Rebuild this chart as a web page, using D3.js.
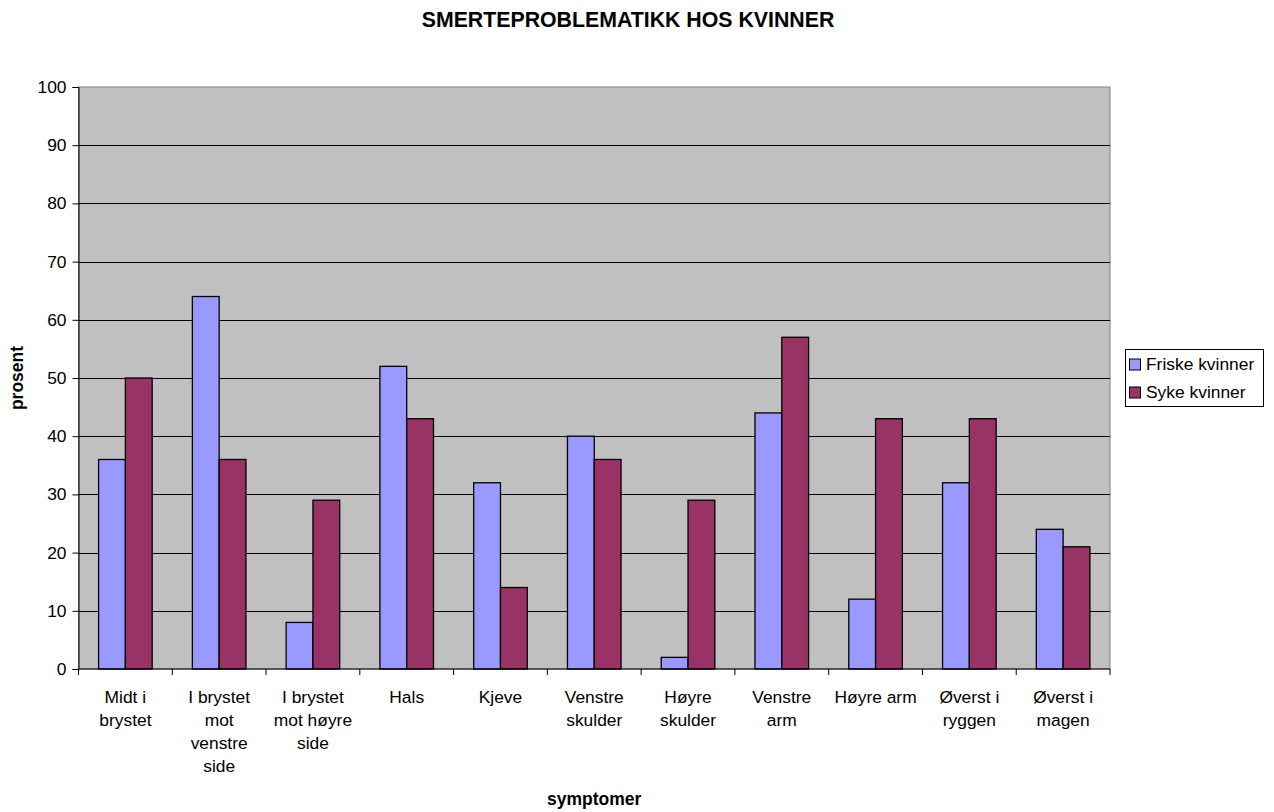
<!DOCTYPE html>
<html>
<head>
<meta charset="utf-8">
<script src="https://cdn.jsdelivr.net/npm/d3@7/dist/d3.min.js"></script>
<style>
  html, body { margin: 0; padding: 0; background: #fff; }
  svg { display: block; font-family: "Liberation Sans", Arial, sans-serif; }
</style>
</head>
<body>
<svg id="chart" width="1274" height="812"></svg>
<script>
// Symptom categories (each label split into display lines)
const categories = [
  ["Midt i", "brystet"],
  ["I brystet", "mot", "venstre", "side"],
  ["I brystet", "mot høyre", "side"],
  ["Hals"],
  ["Kjeve"],
  ["Venstre", "skulder"],
  ["Høyre", "skulder"],
  ["Venstre", "arm"],
  ["Høyre arm"],
  ["Øverst i", "ryggen"],
  ["Øverst i", "magen"]
];
const seriesNames = ["Friske kvinner", "Syke kvinner"];
const friske = [36, 64, 8, 52, 32, 40, 2, 44, 12, 32, 24];
const syke   = [50, 36, 29, 43, 14, 36, 29, 57, 43, 43, 21];
const yTicks = [0, 10, 20, 30, 40, 50, 60, 70, 80, 90, 100];
const colors = ["#9999FF", "#993366"];

const FONT = "Liberation Sans, Arial, sans-serif";
const LABEL_SIZE = 17.4;

const svg = d3.select("#chart");
const plot = { left: 78.5, right: 1110, top: 87, bottom: 669 };

const x = d3.scaleBand()
  .domain(d3.range(categories.length))
  .range([plot.left, plot.right])
  .paddingInner(0).paddingOuter(0);
const inner = d3.scaleBand()
  .domain([0, 1])
  .range([0, x.bandwidth()])
  .paddingInner(0)
  .paddingOuter(0.75);
const y = d3.scaleLinear().domain([0, 100]).range([plot.bottom, plot.top]);

// Plot background
svg.append("rect")
  .attr("x", plot.left).attr("y", plot.top)
  .attr("width", plot.right - plot.left).attr("height", plot.bottom - plot.top)
  .attr("fill", "#C0C0C0").attr("stroke", "#808080").attr("stroke-width", 1);

// Horizontal gridlines
svg.append("g").selectAll("line")
  .data(yTicks.filter(d => d > 0 && d < 100))
  .join("line")
  .attr("x1", plot.left).attr("x2", plot.right)
  .attr("y1", d => Math.round(y(d)) + 0.5).attr("y2", d => Math.round(y(d)) + 0.5)
  .attr("stroke", "#000").attr("stroke-width", 1);

// Bars
const data = categories.map((c, i) => [friske[i], syke[i]]);
const groups = svg.append("g").selectAll("g")
  .data(data)
  .join("g")
  .attr("transform", (d, i) => `translate(${x(i)},0)`);
groups.selectAll("rect")
  .data(d => d.map((v, s) => ({ v, s })))
  .join("rect")
  .attr("x", d => inner(d.s))
  .attr("width", inner.bandwidth())
  .attr("y", d => y(d.v))
  .attr("height", d => y(0) - y(d.v))
  .attr("fill", d => colors[d.s])
  .attr("stroke", "#000").attr("stroke-width", 1.3);

// Y axis
const yAxis = d3.axisLeft(y).tickValues(yTicks).tickSize(6).tickPadding(6);
const gy = svg.append("g").attr("transform", `translate(${plot.left},0)`).call(yAxis);
gy.select(".domain").attr("stroke", "#000");
gy.selectAll("line").attr("stroke", "#000");
gy.selectAll("text").attr("font-size", LABEL_SIZE).attr("fill", "#000")
  .attr("font-family", FONT);

// X axis (ticks on category boundaries)
svg.append("line")
  .attr("x1", plot.left).attr("x2", plot.right)
  .attr("y1", plot.bottom).attr("y2", plot.bottom)
  .attr("stroke", "#000");
svg.append("g").selectAll("line")
  .data(d3.range(categories.length + 1))
  .join("line")
  .attr("x1", i => i < categories.length ? x(i) : plot.right)
  .attr("x2", i => i < categories.length ? x(i) : plot.right)
  .attr("y1", plot.bottom).attr("y2", plot.bottom + 6)
  .attr("stroke", "#000");

// Category labels
const catLabels = svg.append("g").selectAll("text")
  .data(categories)
  .join("text")
  .attr("x", (d, i) => x(i) + x.bandwidth() / 2)
  .attr("y", 702.5)
  .attr("text-anchor", "middle")
  .attr("font-size", LABEL_SIZE)
  .attr("fill", "#000");
catLabels.selectAll("tspan")
  .data(d => d)
  .join("tspan")
  .attr("x", function () { return d3.select(this.parentNode).attr("x"); })
  .attr("dy", (d, j) => j === 0 ? 0 : 23.3)
  .text(d => d);

// Title and axis titles
svg.append("text")
  .attr("x", 628).attr("y", 27)
  .attr("text-anchor", "middle")
  .attr("font-size", 21.3).attr("font-weight", "bold")
  .text("SMERTEPROBLEMATIKK HOS KVINNER");
svg.append("text")
  .attr("x", (plot.left + plot.right) / 2).attr("y", 805)
  .attr("text-anchor", "middle")
  .attr("font-size", 17.5).attr("font-weight", "bold")
  .text("symptomer");
svg.append("text")
  .attr("transform", `translate(23,${(plot.top + plot.bottom) / 2}) rotate(-90)`)
  .attr("text-anchor", "middle")
  .attr("font-size", 17.5).attr("font-weight", "bold")
  .text("prosent");

// Legend
const legend = svg.append("g").attr("transform", "translate(1125.5,349.5)");
legend.append("rect")
  .attr("width", 138).attr("height", 57)
  .attr("fill", "#fff").attr("stroke", "#000").attr("stroke-width", 1);
const items = legend.selectAll("g.item")
  .data(seriesNames)
  .join("g").attr("class", "item")
  .attr("transform", (d, i) => `translate(4,${9.5 + i * 28})`);
items.append("rect")
  .attr("width", 11).attr("height", 11)
  .attr("fill", (d, i) => colors[i]).attr("stroke", "#000");
items.append("text")
  .attr("x", 16.5).attr("y", 11)
  .attr("font-size", LABEL_SIZE)
  .text(d => d);
</script>
</body>
</html>
